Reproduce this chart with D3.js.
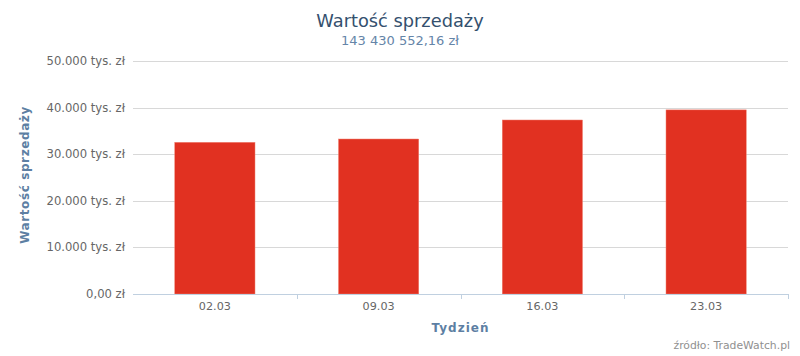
<!DOCTYPE html>
<html><head><meta charset="utf-8">
<script src="https://cdn.jsdelivr.net/npm/d3@7"></script>
<style>body{margin:0;background:#fff}svg{display:block;font-family:"DejaVu Sans",sans-serif}</style>
</head><body>
<svg id="c" width="800" height="356"></svg>
<script>
const categories = ["02.03","09.03","16.03","23.03"];
const values = [32550, 33260, 37340, 39510];
const yTicks = [0,10000,20000,30000,40000,50000];
const yTickLabels = ["0,00 zł","10.000 tys. zł","20.000 tys. zł","30.000 tys. zł","40.000 tys. zł","50.000 tys. zł"];
const title = "Wartość sprzedaży";
const subtitle = "143 430 552,16 zł";

const svg = d3.select("#c");
const m = {l:133, r:788, t:61, b:294};
const x = d3.scaleBand().domain(categories).range([m.l, m.r]).paddingInner(0.51).paddingOuter(0.255);
const xb = d3.scaleBand().domain(categories).range([m.l, m.r]);
const y = d3.scaleLinear().domain([0,50000]).range([m.b, m.t]);

// grid
svg.append("g").selectAll("line").data(yTicks.slice(1)).join("line")
  .attr("x1", m.l).attr("x2", m.r)
  .attr("y1", d=>Math.round(y(d))+0.5).attr("y2", d=>Math.round(y(d))+0.5)
  .attr("stroke","#d8d8d8").attr("stroke-width",1);

// y labels
svg.append("g").selectAll("text").data(yTicks).join("text")
  .attr("x", 125).attr("y", d=>y(d)+4)
  .attr("text-anchor","end").attr("fill","#666").attr("font-size",11.6)
  .text((d,i)=>yTickLabels[i]);

// bars
svg.append("g").selectAll("rect").data(values).join("rect")
  .attr("x",(d,i)=>x(categories[i])).attr("width",x.bandwidth())
  .attr("y",d=>y(d)).attr("height",d=>m.b-y(d))
  .attr("fill","#e13121").attr("stroke","#f08070").attr("stroke-width",0.5);

// x axis line
svg.append("line").attr("x1",m.l).attr("x2",m.r).attr("y1",m.b+0.5).attr("y2",m.b+0.5)
  .attr("stroke","#c0d0e0").attr("stroke-width",1);
// ticks at band boundaries
svg.append("g").selectAll("line").data(categories.slice(1).concat(["end"])).join("line")
  .attr("x1",(d,i)=>Math.round(i<3?xb(d):m.r)+0.5).attr("x2",(d,i)=>Math.round(i<3?xb(d):m.r)+0.5)
  .attr("y1",m.b).attr("y2",m.b+5).attr("stroke","#c0d0e0");

// x labels
svg.append("g").selectAll("text").data(categories).join("text")
  .attr("x",d=>xb(d)+xb.bandwidth()/2).attr("y",m.b+16)
  .attr("text-anchor","middle").attr("fill","#666").attr("font-size",11.2).text(d=>d);

// titles
svg.append("text").attr("x",400).attr("y",27).attr("text-anchor","middle")
  .attr("fill","#34506e").attr("font-size",17.8).text(title);
svg.append("text").attr("x",400).attr("y",45).attr("text-anchor","middle")
  .attr("fill","#6585a8").attr("font-size",13).text(subtitle);
svg.append("text").attr("transform","translate(29,175) rotate(-90)").attr("text-anchor","middle")
  .attr("fill","#5d7fa3").attr("font-size",12).attr("font-weight","bold").attr("letter-spacing",0.6).text("Wartość sprzedaży");
svg.append("text").attr("x",(m.l+m.r)/2).attr("y",332).attr("text-anchor","middle")
  .attr("fill","#5d7fa3").attr("font-size",12).attr("font-weight","bold").attr("letter-spacing",1).text("Tydzień");
svg.append("text").attr("x",790).attr("y",349).attr("text-anchor","end")
  .attr("fill","#909090").attr("font-size",10.8).text("źródło: TradeWatch.pl");
</script>
</body></html>
